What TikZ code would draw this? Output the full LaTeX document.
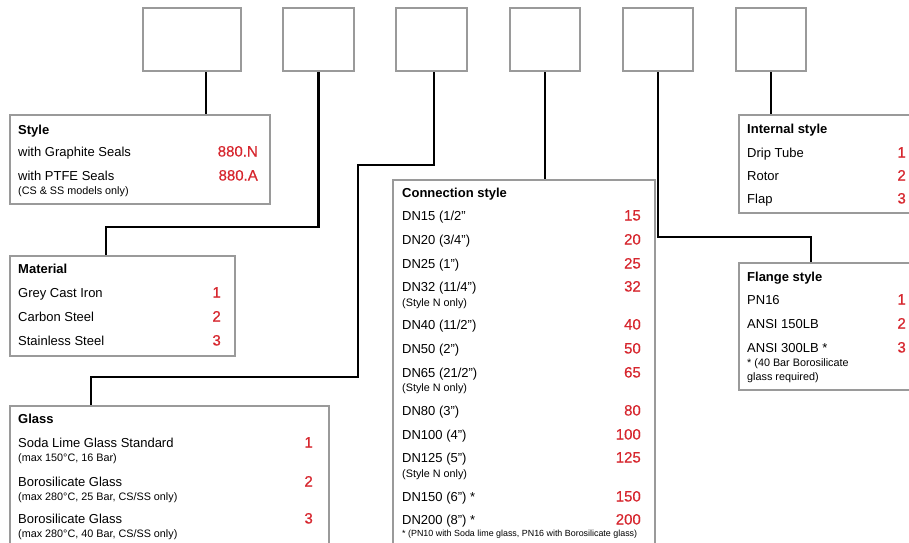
\documentclass[tikz,border=0pt]{standalone}
\usepackage{fontspec}
\setmainfont{Liberation Sans}
\newfontfamily\rednumfont[FakeBold=0.35]{Liberation Sans}
\definecolor{boxgray}{HTML}{9A9A9A}
\definecolor{codered}{HTML}{D7262E}
\begin{document}
\begin{tikzpicture}[x=1pt,y=-1pt,
  frame/.style={draw=boxgray,line width=2pt,fill=white,inner sep=0pt,anchor=north west},
  link/.style={draw=black,line width=2.2pt},
  ttl/.style={anchor=base west,inner sep=0pt,font=\fontsize{13}{15}\selectfont\bfseries},
  txt/.style={anchor=base west,inner sep=0pt,font=\fontsize{13}{15}\selectfont},
  small/.style={anchor=base west,inner sep=0pt,font=\fontsize{10.8}{12}\selectfont},
  tiny/.style={anchor=base west,inner sep=0pt,font=\fontsize{8.9}{10}\selectfont},
  num/.style={anchor=base east,inner sep=0pt,text=codered,font=\rednumfont\fontsize{15}{17}\selectfont}]
\clip (0,0) rectangle (909,542);
\fill[white] (0,0) rectangle (909,542);

% top boxes
\node[frame,minimum width=98pt,minimum height=63pt] (t1) at (142,7) {};
\node[frame,minimum width=71pt,minimum height=63pt] (t2) at (282,7) {};
\node[frame,minimum width=71pt,minimum height=63pt] (t3) at (395,7) {};
\node[frame,minimum width=70pt,minimum height=63pt] (t4) at (509,7) {};
\node[frame,minimum width=70pt,minimum height=63pt] (t5) at (622,7) {};
\node[frame,minimum width=70pt,minimum height=63pt] (t6) at (735,7) {};

% option boxes
\node[frame,minimum width=260pt,minimum height=89pt] (style) at (9,114) {};
\node[frame,minimum width=225pt,minimum height=100pt] (mat) at (9,255) {};
\node[frame,minimum width=319pt,minimum height=160pt] (glass) at (9,405) {};
\node[frame,minimum width=262pt,minimum height=385pt] (cs) at (392,179) {};
\node[frame,minimum width=200pt,minimum height=98pt] (internal) at (738,114) {};
\node[frame,minimum width=200pt,minimum height=127pt] (flange) at (738,262) {};

% connectors
\coordinate (k2) at (106,227);
\coordinate (k3a) at (358,165);
\coordinate (k3) at (91,377);
\coordinate (k5) at (811,237);
\draw[link] (t1.south -| 206,0) -- (style.north -| 206,0);
\draw[link] (t2.south) |- (k2) -- (mat.north -| k2);
\draw[link] (t3.south -| 434,0) |- (k3a) |- (k3) -- (glass.north -| k3);
\draw[link] (t4.south) -- (cs.north -| t4.south);
\draw[link] (t5.south) |- (k5) -- (flange.north -| k5);
\draw[link] (t6.south) -- (internal.north -| t6.south);

% Style
\node[ttl] (sT) at (18,134) {Style};
\node[txt] (s1) at (18,156.5) {with Graphite Seals};
\node[num] (s1n) at (258,156.5) {880.N};
\node[txt] (s2) at (18,180.5) {with PTFE Seals};
\node[num] (s2n) at (258,180.5) {880.A};
\node[small] (s2s) at (18,194.5) {(CS \& SS models only)};

% Material
\node[ttl] (mT) at (18,273.5) {Material};
\node[txt] (m1) at (18,297.5) {Grey Cast Iron};
\node[num] (m1n) at (221,297.5) {1};
\node[txt] (m2) at (18,321.5) {Carbon Steel};
\node[num] (m2n) at (221,321.5) {2};
\node[txt] (m3) at (18,345.5) {Stainless Steel};
\node[num] (m3n) at (221,345.5) {3};

% Glass
\node[ttl] (gT) at (18,423.5) {Glass};
\node[txt] (g1) at (18,447.5) {Soda Lime Glass Standard};
\node[num] (g1n) at (313,447.5) {1};
\node[small] (g1s) at (18,461.7) {(max 150°C, 16 Bar)};
\node[txt] (g2) at (18,486.5) {Borosilicate Glass};
\node[num] (g2n) at (313,486.5) {2};
\node[small] (g2s) at (18,500.7) {(max 280°C, 25 Bar, CS/SS only)};
\node[txt] (g3) at (18,523.5) {Borosilicate Glass};
\node[num] (g3n) at (313,523.5) {3};
\node[small] (g3s) at (18,537.7) {(max 280°C, 40 Bar, CS/SS only)};

% Connection style
\node[ttl] (cT) at (402,197.5) {Connection style};
\node[txt] (c1) at (402,220.5) {DN15 (1/2”};
\node[num] (c1n) at (641,220.5) {15};
\node[txt] (c2) at (402,244.5) {DN20 (3/4”)};
\node[num] (c2n) at (641,244.5) {20};
\node[txt] (c3) at (402,268.5) {DN25 (1”)};
\node[num] (c3n) at (641,268.5) {25};
\node[txt] (c4) at (402,291.5) {DN32 (11/4”)};
\node[num] (c4n) at (641,291.5) {32};
\node[small] (c4s) at (402,306.7) {(Style N only)};
\node[txt] (c5) at (402,329.5) {DN40 (11/2”)};
\node[num] (c5n) at (641,329.5) {40};
\node[txt] (c6) at (402,353.5) {DN50 (2”)};
\node[num] (c6n) at (641,353.5) {50};
\node[txt] (c7) at (402,377.5) {DN65 (21/2”)};
\node[num] (c7n) at (641,377.5) {65};
\node[small] (c7s) at (402,391.7) {(Style N only)};
\node[txt] (c8) at (402,415.5) {DN80 (3”)};
\node[num] (c8n) at (641,415.5) {80};
\node[txt] (c9) at (402,439.5) {DN100 (4”)};
\node[num] (c9n) at (641,439.5) {100};
\node[txt] (c10) at (402,462.5) {DN125 (5”)};
\node[num] (c10n) at (641,462.5) {125};
\node[small] (c10s) at (402,477.7) {(Style N only)};
\node[txt] (c11) at (402,501.5) {DN150 (6”) *};
\node[num] (c11n) at (641,501.5) {150};
\node[txt] (c12) at (402,524.5) {DN200 (8”) *};
\node[num] (c12n) at (641,524.5) {200};
\node[tiny] (c12s) at (402,536.5) {* (PN10 with Soda lime glass, PN16 with Borosilicate glass)};

% Internal style
\node[ttl] (iT) at (747,133.5) {Internal style};
\node[txt] (i1) at (747,157.5) {Drip Tube};
\node[num] (i1n) at (906,157.5) {1};
\node[txt] (i2) at (747,180.5) {Rotor};
\node[num] (i2n) at (906,180.5) {2};
\node[txt] (i3) at (747,203.5) {Flap};
\node[num] (i3n) at (906,203.5) {3};

% Flange style
\node[ttl] (fT) at (747,281.5) {Flange style};
\node[txt] (f1) at (747,304.5) {PN16};
\node[num] (f1n) at (906,304.5) {1};
\node[txt] (f2) at (747,328.5) {ANSI 150LB};
\node[num] (f2n) at (906,328.5) {2};
\node[txt] (f3) at (747,352.5) {ANSI 300LB *};
\node[num] (f3n) at (906,352.5) {3};
\node[small] (f3s) at (747,366) {* (40 Bar Borosilicate};
\node[small] (f3t) at (747,380) {glass required)};
\end{tikzpicture}
\end{document}
